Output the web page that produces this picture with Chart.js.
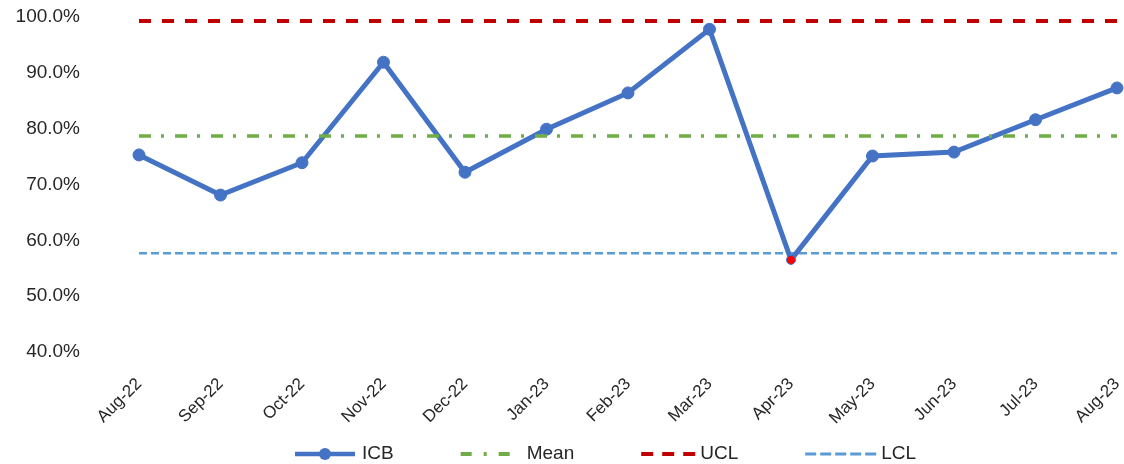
<!DOCTYPE html>
<html>
<head>
<meta charset="utf-8">
<script src="https://cdn.jsdelivr.net/npm/chart.js@4/dist/chart.umd.min.js"></script>
<style>
  html, body { margin: 0; padding: 0; background: #ffffff; }
  #wrap { width: 1124px; height: 464px; position: relative; }
</style>
</head>
<body>
<div id="wrap"><canvas id="spc"></canvas></div>
<script>
// Monthly ICB rate (%) with control limits
const months = ['Aug-22', 'Sep-22', 'Oct-22', 'Nov-22', 'Dec-22', 'Jan-23', 'Feb-23',
                'Mar-23', 'Apr-23', 'May-23', 'Jun-23', 'Jul-23', 'Aug-23'];
const icbValues = [75.3, 68.1, 73.9, 91.9, 72.2, 79.9, 86.4, 97.8, 56.5, 75.1, 75.8, 81.6, 87.3];
const meanLevel = 78.7;
const uclLevel = 99.3;
const lclLevel = 57.7;
const yTicks = [40, 50, 60, 70, 80, 90, 100];

const FONT = "'Liberation Sans', Arial, sans-serif";
const TEXT = '#262626';
const BLUE = '#4472C4';
const GREEN = '#70AD47';
const RED = '#C00000';
const LIGHTBLUE = '#5B9BD5';

const flat = v => months.map(() => v);
// points below the lower control limit are flagged in red
const pointFill = icbValues.map(v => v < lclLevel ? '#FF0000' : BLUE);
const pointSize = icbValues.map(v => v < lclLevel ? 4.5 : 6);

// Legend drawn beneath the axis labels
const legendItems = [
  { label: 'ICB',  color: BLUE,      width: 4.5, dash: [],             len: 60, gap: 7,  marker: true },
  { label: 'Mean', color: GREEN,     width: 4,   dash: [11, 12, 3, 12], len: 50, gap: 16 },
  { label: 'UCL',  color: RED,       width: 4,   dash: [12, 9],        len: 55, gap: 4 },
  { label: 'LCL',  color: LIGHTBLUE, width: 3,   dash: [11, 4],        len: 72, gap: 4 }
];

const keyPlugin = {
  id: 'bottomKey',
  afterDraw(chart) {
    const ctx = chart.ctx;
    const y = 454;
    let x = 295;
    ctx.save();
    ctx.font = '19px ' + FONT;
    ctx.textBaseline = 'middle';
    ctx.textAlign = 'left';
    legendItems.forEach(item => {
      ctx.beginPath();
      ctx.setLineDash(item.dash);
      ctx.lineWidth = item.width;
      ctx.strokeStyle = item.color;
      ctx.lineCap = 'butt';
      ctx.moveTo(x, y);
      ctx.lineTo(x + item.len, y);
      ctx.stroke();
      if (item.marker) {
        ctx.setLineDash([]);
        ctx.beginPath();
        ctx.fillStyle = item.color;
        ctx.arc(x + item.len / 2, y, 6, 0, Math.PI * 2);
        ctx.fill();
      }
      const tx = x + item.len + item.gap;
      ctx.fillStyle = TEXT;
      ctx.fillText(item.label, tx, y);
      x = tx + ctx.measureText(item.label).width + 67;
    });
    ctx.restore();
  }
};

new Chart(document.getElementById('spc'), {
  type: 'line',
  data: {
    labels: months,
    datasets: [
      {
        label: 'ICB',
        data: icbValues,
        borderColor: BLUE,
        backgroundColor: BLUE,
        borderWidth: 5,
        pointRadius: pointSize,
        pointBackgroundColor: pointFill,
        pointBorderColor: BLUE,
        pointBorderWidth: 1,
        tension: 0,
        order: 3
      },
      {
        label: 'Mean',
        data: flat(meanLevel),
        borderColor: GREEN,
        borderWidth: 3.5,
        borderDash: [12, 10, 3, 11],
        pointRadius: 0,
        order: 1
      },
      {
        label: 'UCL',
        data: flat(uclLevel),
        borderColor: RED,
        borderWidth: 4,
        borderDash: [12, 11],
        pointRadius: 0,
        order: 2
      },
      {
        label: 'LCL',
        data: flat(lclLevel),
        borderColor: LIGHTBLUE,
        borderWidth: 2.5,
        borderDash: [8, 4],
        pointRadius: 0,
        order: 4
      }
    ]
  },
  options: {
    responsive: true,
    maintainAspectRatio: false,
    animation: false,
    layout: { padding: { left: 0, right: 4, top: 17, bottom: 30 } },
    plugins: {
      legend: { display: false },
      tooltip: { enabled: false }
    },
    scales: {
      x: {
        offset: false,
        grid: { display: false, drawTicks: false },
        border: { display: false },
        ticks: {
          minRotation: 45,
          maxRotation: 45,
          autoSkip: false,
          padding: 22,
          color: TEXT,
          font: { family: FONT, size: 17 }
        },
        afterFit(scale) {
          scale.height = 82;
          scale.paddingLeft = 0;
          scale.paddingRight = 0;
        }
      },
      y: {
        min: 40,
        max: 100,
        grid: { display: false, drawTicks: false },
        border: { display: false },
        afterBuildTicks(scale) {
          scale.ticks = yTicks.map(v => ({ value: v }));
        },
        ticks: {
          padding: 59,
          color: TEXT,
          font: { family: FONT, size: 19 },
          callback: v => Number(v).toFixed(1) + '%'
        },
        afterFit(scale) {
          scale.width = 139;
          scale.paddingTop = 0;
          scale.paddingBottom = 0;
        }
      }
    }
  },
  plugins: [keyPlugin]
});
</script>
</body>
</html>
